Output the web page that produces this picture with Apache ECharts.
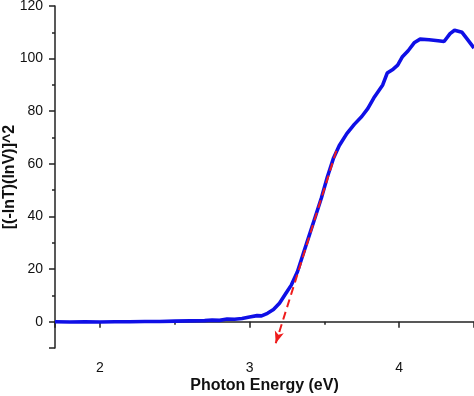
<!DOCTYPE html>
<html>
<head>
    <meta charset="utf-8">
    <script type="text/javascript" src="https://cdn.jsdelivr.net/npm/echarts@6/dist/echarts.min.js"></script>
</head>
<body style="margin:0;">
<div id="main" style="width:474px;height:396px;"></div>

<script type="text/javascript">
    // photon energy (eV) and [(-lnT)(lnV)]^2
    var energy = [1.70, 1.80, 1.90, 2.00, 2.10, 2.20, 2.30, 2.40, 2.50, 2.60, 2.70, 2.75, 2.80, 2.85, 2.90, 2.95,
        3.00, 3.05, 3.08, 3.12, 3.16, 3.20, 3.24, 3.28, 3.32, 3.36, 3.40, 3.44, 3.48, 3.52, 3.56, 3.60, 3.65,
        3.70, 3.75, 3.79, 3.83, 3.86, 3.89, 3.92, 3.96, 3.99, 4.02, 4.06, 4.10, 4.14, 4.20, 4.26, 4.30, 4.34,
        4.37, 4.42, 4.46, 4.50];
    var absorb = [0.0, -0.1, 0.0, -0.1, 0.0, 0.0, 0.1, 0.1, 0.2, 0.3, 0.4, 0.6, 0.5, 1.0, 0.9, 1.2,
        1.8, 2.3, 2.2, 3.2, 4.6, 7.0, 10.5, 14.0, 19, 26, 33, 40, 47, 55, 62, 67, 71.5,
        75, 78, 81, 85, 87.5, 90, 94.5, 96, 97.5, 100.6, 103, 106, 107.4, 107.2, 106.8, 106.5, 109.5,
        110.8, 110, 107, 104];
    // tangent (red dashed arrow): start and end points
    var tangentStart = [3.58, 65];
    var tangentEnd = [3.175, -8.2];

    var pts = [];
    for (var i = 0; i < energy.length; i++) {
        pts.push([energy[i], absorb[i]]);
    }

    var myChart = echarts.init(document.getElementById('main'));
    var axisColor = '#222';
    var option = {
        animation: false,
        grid: {left: 55, right: 0, top: 6, bottom: 48, containLabel: false, outerBoundsMode: 'none'},
        xAxis: {
            type: 'value',
            min: 1.7,
            max: 4.5,
            splitNumber: 3,
            name: 'Photon Energy (eV)',
            nameLocation: 'middle',
            nameGap: 30,
            nameMoveOverlap: false,
            nameTextStyle: {fontFamily: 'Liberation Sans', fontWeight: 'bold', fontSize: 16, color: '#111'},
            axisLine: {lineStyle: {color: axisColor, width: 1.5}},
            axisTick: {show: true, inside: false, length: 6, lineStyle: {color: axisColor, width: 1.5}},
            minorTick: {show: true, splitNumber: 2, length: 3, lineStyle: {color: axisColor, width: 1.5}},
            axisLabel: {
                fontFamily: 'Liberation Sans', fontSize: 14, color: '#111', margin: 13,
                formatter: function (v) { return Math.abs(v - Math.round(v)) < 1e-6 ? String(Math.round(v)) : ''; }
            },
            splitLine: {show: false}
        },
        yAxis: {
            type: 'value',
            min: -10,
            max: 120,
            splitNumber: 6,
            name: '[(-lnT)(lnV)]^2',
            nameLocation: 'middle',
            nameGap: 37,
            nameMoveOverlap: false,
            nameTextStyle: {fontFamily: 'Liberation Sans', fontWeight: 'bold', fontSize: 16, color: '#111'},
            axisLine: {show: true, lineStyle: {color: axisColor, width: 1.5}},
            axisTick: {show: true, inside: false, length: 6, lineStyle: {color: axisColor, width: 1.5}},
            minorTick: {show: true, splitNumber: 2, length: 3, lineStyle: {color: axisColor, width: 1.5}},
            axisLabel: {
                fontFamily: 'Liberation Sans', fontSize: 14, color: '#111', margin: 12,
                formatter: function (v) { return v < 0 ? '' : String(v); }
            },
            splitLine: {show: false}
        },
        series: [
            {
                type: 'line',
                data: pts,
                showSymbol: false,
                smooth: false,
                lineStyle: {color: '#0f0fe6', width: 3.6},
                z: 2
            },
            {
                type: 'line',
                data: [],
                z: 3,
                markLine: {
                    silent: true,
                    symbol: ['none', 'arrow'],
                    symbolSize: [7, 12],
                    label: {show: false},
                    lineStyle: {color: '#ee1c1c', type: [8, 5], width: 2},
                    data: [[{coord: tangentStart}, {coord: tangentEnd}]]
                }
            }
        ]
    };
    myChart.setOption(option);
</script>
</body>
</html>
